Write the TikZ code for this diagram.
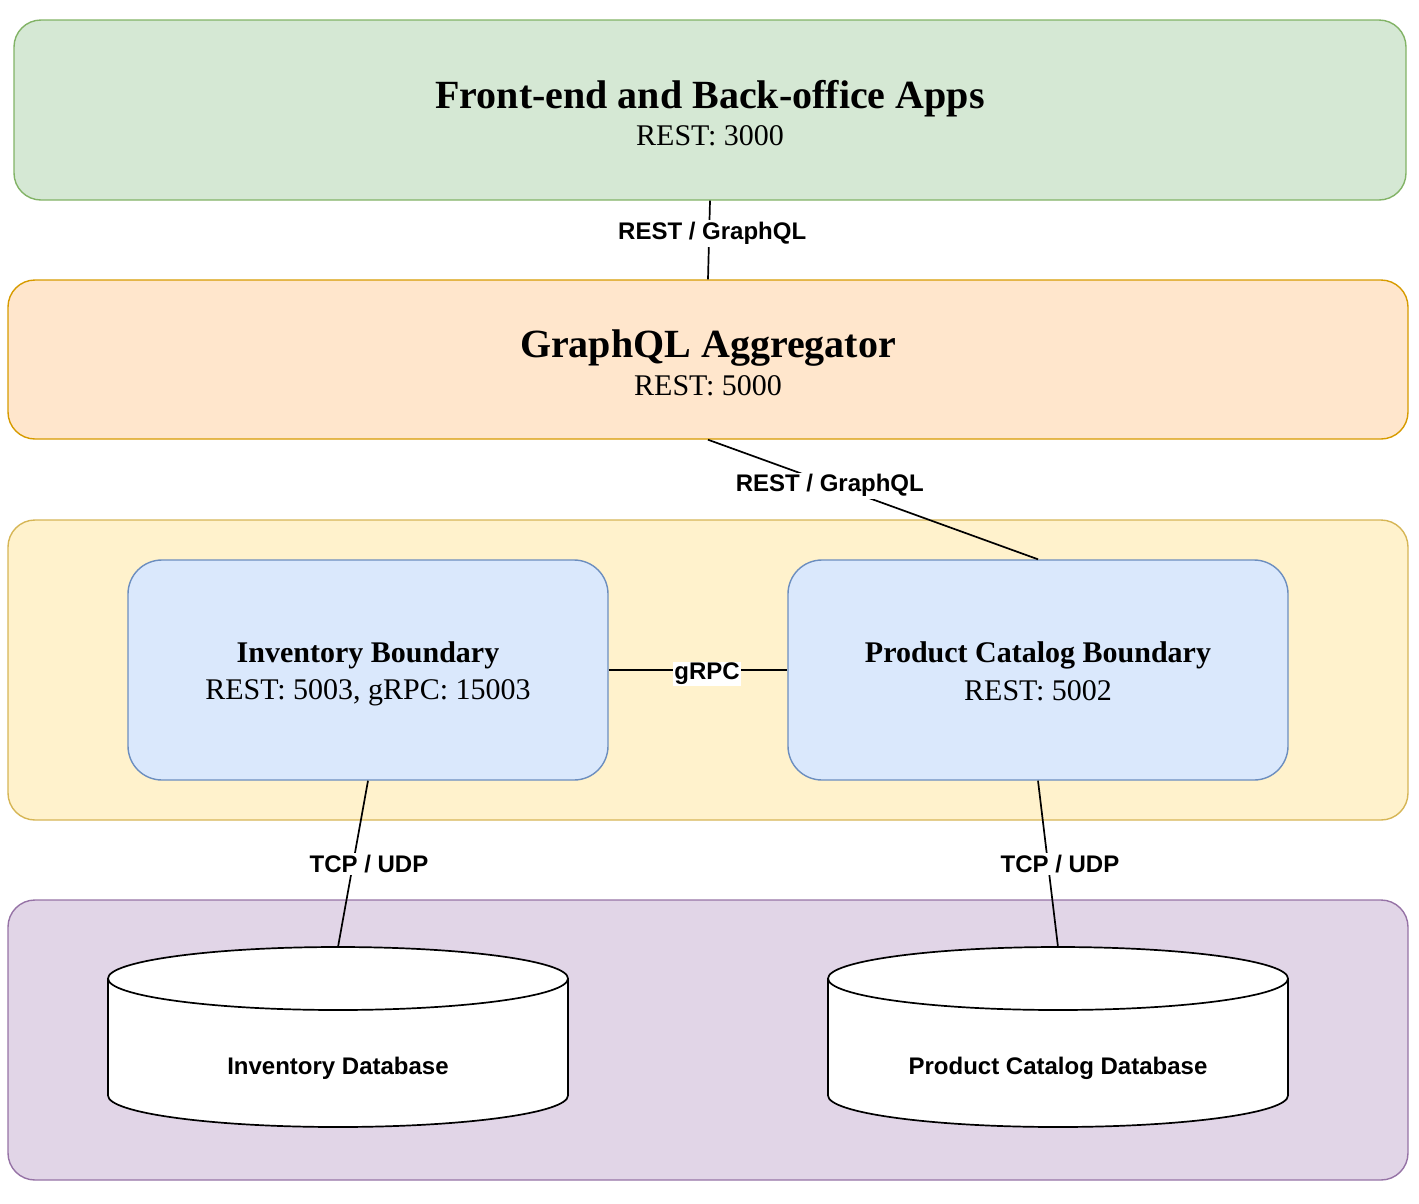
\documentclass[tikz,border=0pt]{standalone}
\usepackage{fontspec}
\setmainfont{Liberation Serif}
\setsansfont{Liberation Sans}
\usetikzlibrary{positioning}

\definecolor{appfill}{HTML}{D5E8D4}
\definecolor{appline}{HTML}{82B366}
\definecolor{aggfill}{HTML}{FFE6CC}
\definecolor{aggline}{HTML}{D79B00}
\definecolor{svcfill}{HTML}{FFF2CC}
\definecolor{svcline}{HTML}{D6B656}
\definecolor{dbfill}{HTML}{E1D5E7}
\definecolor{dbline}{HTML}{9673A6}
\definecolor{bndfill}{HTML}{DAE8FC}
\definecolor{bndline}{HTML}{6C8EBF}

\newcommand\bigtitle[2]{{\fontsize{40}{44}\selectfont\bfseries\rule{0pt}{34.5pt}#1}\\[8pt]{\fontsize{30}{34}\selectfont #2}}
\newcommand\smalltitle[2]{{\fontsize{30}{34}\selectfont\bfseries\rule{0pt}{29.5pt}#1}\\[10pt]{\fontsize{30}{34}\selectfont #2\rule[-7pt]{0pt}{7pt}}}
\newcommand\storerx{230}
\newcommand\storery{31.5}
% #1 name, #2 top centre
\newcommand\drawstore[2]{
  \begin{scope}[shift={#2}]
    \coordinate (#1top) at (0,0);
    \fill[white] (-\storerx,\storery) -- (-\storerx,180-\storery)
      arc[start angle=180,end angle=0,x radius=\storerx,y radius=\storery]
      -- (\storerx,\storery)
      arc[start angle=0,end angle=-180,x radius=\storerx,y radius=\storery] -- cycle;
    \draw[store] (-\storerx,\storery) -- (-\storerx,180-\storery)
      arc[start angle=180,end angle=0,x radius=\storerx,y radius=\storery]
      -- (\storerx,\storery);
    \draw[store] (0,\storery) ellipse[x radius=\storerx,y radius=\storery];
  \end{scope}
}

\begin{document}
\begin{tikzpicture}[
    x=1pt,y=-1pt,
    layer/.style={draw,rounded corners=27pt,line width=1.4pt,align=center,inner sep=0pt},
    boundary/.style={layer,rounded corners=34pt,fill=bndfill,draw=bndline,minimum height=220pt},
    store/.style={line width=1.7pt},
    storelabel/.style={font=\sffamily\bfseries\fontsize{24}{28}\selectfont},
    conn/.style={line width=1.7pt},
    proto/.style={fill=white,inner sep=2pt,font=\sffamily\bfseries\fontsize{24}{28}\selectfont}
  ]
    \useasboundingbox (0,0) rectangle (1419,1203);

    % layers
    \node[layer,fill=appfill,draw=appline,minimum width=1392pt,minimum height=180pt]
      (front) at (710,110) {\bigtitle{Front-end and Back-office Apps}{REST: 3000}};
    \node[layer,fill=aggfill,draw=aggline,minimum width=1400pt,minimum height=159pt]
      (agg) at (708,359.5) {\bigtitle{GraphQL Aggregator}{REST: 5000}};
    \node[layer,fill=svcfill,draw=svcline,minimum width=1400pt,minimum height=300pt]
      (svc) at (708,670) {};
    \node[layer,fill=dbfill,draw=dbline,minimum width=1400pt,minimum height=280pt]
      (data) at (708,1040) {};

    % boundaries
    \node[boundary,minimum width=480pt] (inv) at (368,670)
      {\smalltitle{Inventory Boundary}{REST: 5003, gRPC: 15003}};
    \node[boundary,minimum width=500pt] (prod) at (1038,670)
      {\smalltitle{Product Catalog Boundary}{REST: 5002}};

    % databases
    \drawstore{invdb}{(338,947)}
    \node[storelabel] (invdblabel) at (338,1068) {Inventory Database};
    \drawstore{proddb}{(1058,947)}
    \node[storelabel] (proddblabel) at (1058,1068) {Product Catalog Database};

    % connectors
    \draw[conn] (front.south) -- node[proto,pos=0.39,xshift=3pt,yshift=-2pt] {REST / GraphQL} (agg.north);
    \draw[conn] (agg.south) -- node[proto,pos=0.36,xshift=3pt,yshift=-3pt] {REST / GraphQL} (prod.north);
    \draw[conn] (inv.east) -- node[proto,inner sep=1pt,xshift=9pt,yshift=-4pt] {gRPC} (prod.west);
    \draw[conn] (inv.south) -- node[proto,xshift=16pt] {TCP / UDP} (invdbtop);
    \draw[conn] (prod.south) -- node[proto,xshift=12pt] {TCP / UDP} (proddbtop);
  \end{tikzpicture}
\end{document}
